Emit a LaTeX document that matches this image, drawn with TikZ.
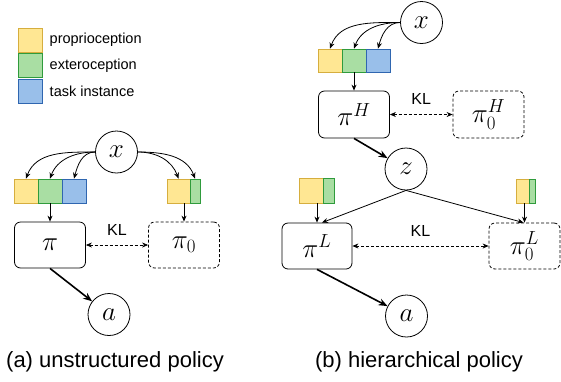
\RequirePackage{fix-cm}
\documentclass[tikz,border=0pt]{standalone}
\usepackage[no-math]{fontspec}
\setmainfont{Liberation Sans}
\usetikzlibrary{arrows.meta}
\definecolor{propFill}{HTML}{FFE793}
\definecolor{propDraw}{HTML}{D6AE3E}
\definecolor{extFill}{HTML}{A9DEA3}
\definecolor{extDraw}{HTML}{2F9B3C}
\definecolor{taskFill}{HTML}{99BFEA}
\definecolor{taskDraw}{HTML}{2F66B0}

\begin{document}
\begin{tikzpicture}
[x=1pt,y=-1pt,line width=0.8pt,%
  lineDecorate/.style={-{Stealth[length=6pt,width=5pt]},line width=0.8pt},%
  thickDecorate/.style={-{Stealth[length=9pt,width=7pt]},line width=1.6pt},%
  klDecorate/.style={{Stealth[length=6pt,width=5pt]}-{Stealth[length=6pt,width=5pt]},dash pattern=on 3pt off 2pt,line width=0.7pt},%
  policyDecorate/.style={shape=rectangle,rounded corners=6pt,draw,minimum width=71pt,minimum height=46pt,inner sep=0pt,font=\fontsize{27}{30}\selectfont},%
  priorDecorate/.style={policyDecorate,dash pattern=on 3pt off 2pt},%
  varDecorate/.style={shape=circle,draw,minimum size=42pt,inner sep=0pt,font=\fontsize{27}{30}\selectfont},%
  segDecorate/.style={shape=rectangle,inner sep=0pt,line width=0.8pt},%
  prop/.style={segDecorate,draw=propDraw,fill=propFill},%
  ext/.style={segDecorate,draw=extDraw,fill=extFill},%
  task/.style={segDecorate,draw=taskDraw,fill=taskFill},%
  klLabel/.style={above=6pt,font=\fontsize{16}{18}\selectfont},%
  captionText/.style={font=\fontsize{22}{26}\selectfont}]
\useasboundingbox (0,0) rectangle (561,381);
%% legend
\foreach \kind/\y/\text in {prop/40/proprioception, ext/65.5/exteroception, task/91.5/task instance}
{
  \node[\kind,minimum width=24pt,minimum height=24pt] (\kind Key) at (30,\y) {};
  \node[anchor=west,font=\fontsize{14.5}{16}\selectfont] at (46,\y) {\text};
}
%% observation segments
\foreach \nodename/\kind/\x/\y/\w/\h in {
  pA/prop/26/191/24/24, eA/ext/50/191/24/24, tA/task/74/191/24/24,
  pZeroA/prop/178.5/191/23/24, eZeroA/ext/195/191/10/24,
  pH/prop/330/60.5/24/23, eH/ext/354/60.5/24/23, tH/task/378/60.5/24/23,
  pL/prop/311/190.5/24/25, eL/ext/328.5/190.5/11/25,
  pZeroL/prop/522.5/191/13/24, eZeroL/ext/532/191/6/24}
{
  \node[\kind,minimum width=\w pt,minimum height=\h pt] (\nodename) at (\x,\y) {};
}
%% (a) nodes
\node[varDecorate] (xA) at (116.5,152) {$x$};
\node[policyDecorate] (piA) at (50,245) {$\pi$};
\node[priorDecorate] (piZeroA) at (184,245) {$\pi_0$};
\node[varDecorate] (aA) at (109,314.5) {$a$};
%% (b) nodes
\node[varDecorate] (xB) at (421.5,22.5) {$x$};
\node[policyDecorate,minimum height=47pt] (piH) at (354,114.5) {$\pi^H$};
\node[priorDecorate,minimum height=47pt] (piZeroH) at (488.5,114.5) {$\pi^H_0$};
\node[varDecorate] (z) at (406,169) {$z$};
\node[policyDecorate,minimum width=70pt] (piL) at (317,246) {$\pi^L$};
\node[priorDecorate] (piZeroL) at (524.5,246) {$\pi^L_0$};
\node[varDecorate] (aB) at (406.5,316) {$a$};
%% captions
\node[captionText] (capA) at (115,362) {(a) unstructured policy};
\node[captionText] (capB) at (419,362) {(b) hierarchical policy};
%% connect observation to segments
\path
(xA.west) edge[lineDecorate,out=180,in=70] (pA.north)
(xA.west) edge[lineDecorate,out=180,in=70] (eA.north)
(xA.west) edge[lineDecorate,out=180,in=75] (tA.north)
(xA.east) edge[lineDecorate,out=0,in=110] (pZeroA.north)
(xA.east) edge[lineDecorate,out=0,in=110] (eZeroA.north)
(xB.west) edge[lineDecorate,out=180,in=70] (pH.north)
(xB.west) edge[lineDecorate,out=180,in=70] (eH.north)
(xB.west) edge[lineDecorate,out=180,in=75] (tH.north);
%% segments into policies
\path
(piA.north |- eA.south) edge[lineDecorate] (piA.north)
(piZeroA.north |- pZeroA.south) edge[lineDecorate] (piZeroA.north)
(piH.north |- eH.south) edge[lineDecorate] (piH.north)
(piL.north |- pL.south) edge[lineDecorate] (piL.north)
(piZeroL.north |- pZeroL.south) edge[lineDecorate] (piZeroL.north)
(z.south) edge[lineDecorate] ([xshift=5pt]piL.north)
(z.south) edge[lineDecorate] ([xshift=-1pt]piZeroL.north);
%% outputs and KL terms
\path
(piA.south) edge[thickDecorate] (aA)
(piH.south) edge[thickDecorate] (z)
(piL.south) edge[thickDecorate] (aB)
(piA) edge[klDecorate] node[klLabel] {KL} (piZeroA)
(piH) edge[klDecorate] node[klLabel] {KL} (piZeroH)
(piL) edge[klDecorate] node[klLabel] {KL} (piZeroL);
\end{tikzpicture}
\end{document}
